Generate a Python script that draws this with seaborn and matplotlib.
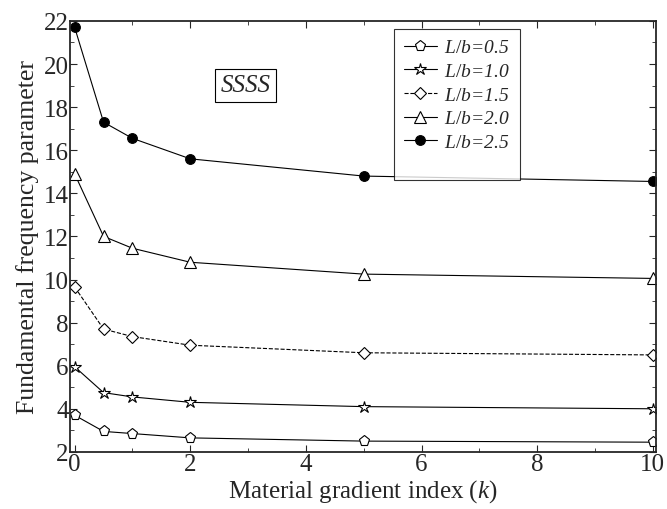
import matplotlib
matplotlib.use("Agg")
import matplotlib.pyplot as plt
import seaborn as sns
import pandas as pd
from matplotlib.ticker import MultipleLocator
from matplotlib.lines import Line2D

k = [0, 0.5, 1, 2, 5, 10]
series_names = ["L/b=0.5", "L/b=1.0", "L/b=1.5", "L/b=2.0", "L/b=2.5"]
lb05 = [3.7, 2.95, 2.85, 2.65, 2.5, 2.45]
lb10 = [5.95, 4.75, 4.55, 4.3, 4.1, 4.0]
lb15 = [9.65, 7.7, 7.35, 6.95, 6.6, 6.5]
lb20 = [14.9, 12.0, 11.45, 10.8, 10.25, 10.05]
lb25 = [21.7, 17.3, 16.55, 15.6, 14.8, 14.55]

sns.set_style("ticks")
plt.rcParams['font.family'] = ['Liberation Serif', 'DejaVu Serif']
plt.rcParams['mathtext.fontset'] = 'custom'
plt.rcParams['mathtext.it'] = 'Liberation Serif:italic'
plt.rcParams['mathtext.rm'] = 'Liberation Serif'

fig = plt.figure(figsize=(6.67, 5.10), dpi=100)
ax = fig.add_axes([0.105, 0.112, 0.878, 0.845])

styles = [
    dict(marker='p', ls='-', mfc='white', ms=8),
    dict(marker='*', ls='-', mfc='white', ms=9),
    dict(marker='D', ls='--', mfc='white', ms=6.5),
    dict(marker='^', ls='-', mfc='white', ms=8),
    dict(marker='o', ls='-', mfc='black', ms=7),
]
data = [lb05, lb10, lb15, lb20, lb25]
for name, vals, st in zip(series_names, data, styles):
    df = pd.DataFrame({"k": k, "v": vals})
    sns.lineplot(data=df, x="k", y="v", ax=ax, color='black', lw=0.8,
                 linestyle=st['ls'], marker=st['marker'], markersize=st['ms'],
                 markerfacecolor=st['mfc'], markeredgecolor='black',
                 markeredgewidth=0.8, label=name)

ax.set_xlim(-0.08, 10.05)
ax.set_ylim(2, 22)
ax.xaxis.set_major_locator(MultipleLocator(2))
ax.xaxis.set_minor_locator(MultipleLocator(1))
ax.yaxis.set_major_locator(MultipleLocator(2))
ax.yaxis.set_minor_locator(MultipleLocator(1))
ax.tick_params(which='both', direction='in', top=True, right=True, labelsize=18, pad=1)
ax.tick_params(which='major', length=5, width=0.8)
ax.tick_params(which='minor', length=3, width=0.6)
for s in ax.spines.values():
    s.set_linewidth(1.3)

ax.set_xlabel("Material gradient index ($k$)", fontsize=18, labelpad=1)
ax.set_ylabel("Fundamental frequency parameter", fontsize=18.5, labelpad=3)

handles, labels = ax.get_legend_handles_labels()
blank = Line2D([], [], color='none')
leg = ax.legend(handles + [blank],
                ["$L/b$=0.5", "$L/b$=1.0", "$L/b$=1.5", "$L/b$=2.0", "$L/b$=2.5", " "],
                loc='upper left', bbox_to_anchor=(0.553, 0.981), borderaxespad=0,
                frameon=True, fancybox=False, edgecolor='black', fontsize=14,
                handlelength=1.7, borderpad=0.5, labelspacing=0.31, handletextpad=0.4)
leg.get_frame().set_linewidth(0.8)
for t in leg.get_texts():
    t.set_fontstyle('italic')
leg.get_texts()[-1].set_fontsize(1)

ax.text(0.30, 0.851, "SSSS", transform=ax.transAxes, fontsize=18, style='italic',
        ha='center', va='center',
        bbox=dict(boxstyle='square,pad=0.22', fc='white', ec='black', lw=0.8))

fig.savefig("out.png", dpi=100)
